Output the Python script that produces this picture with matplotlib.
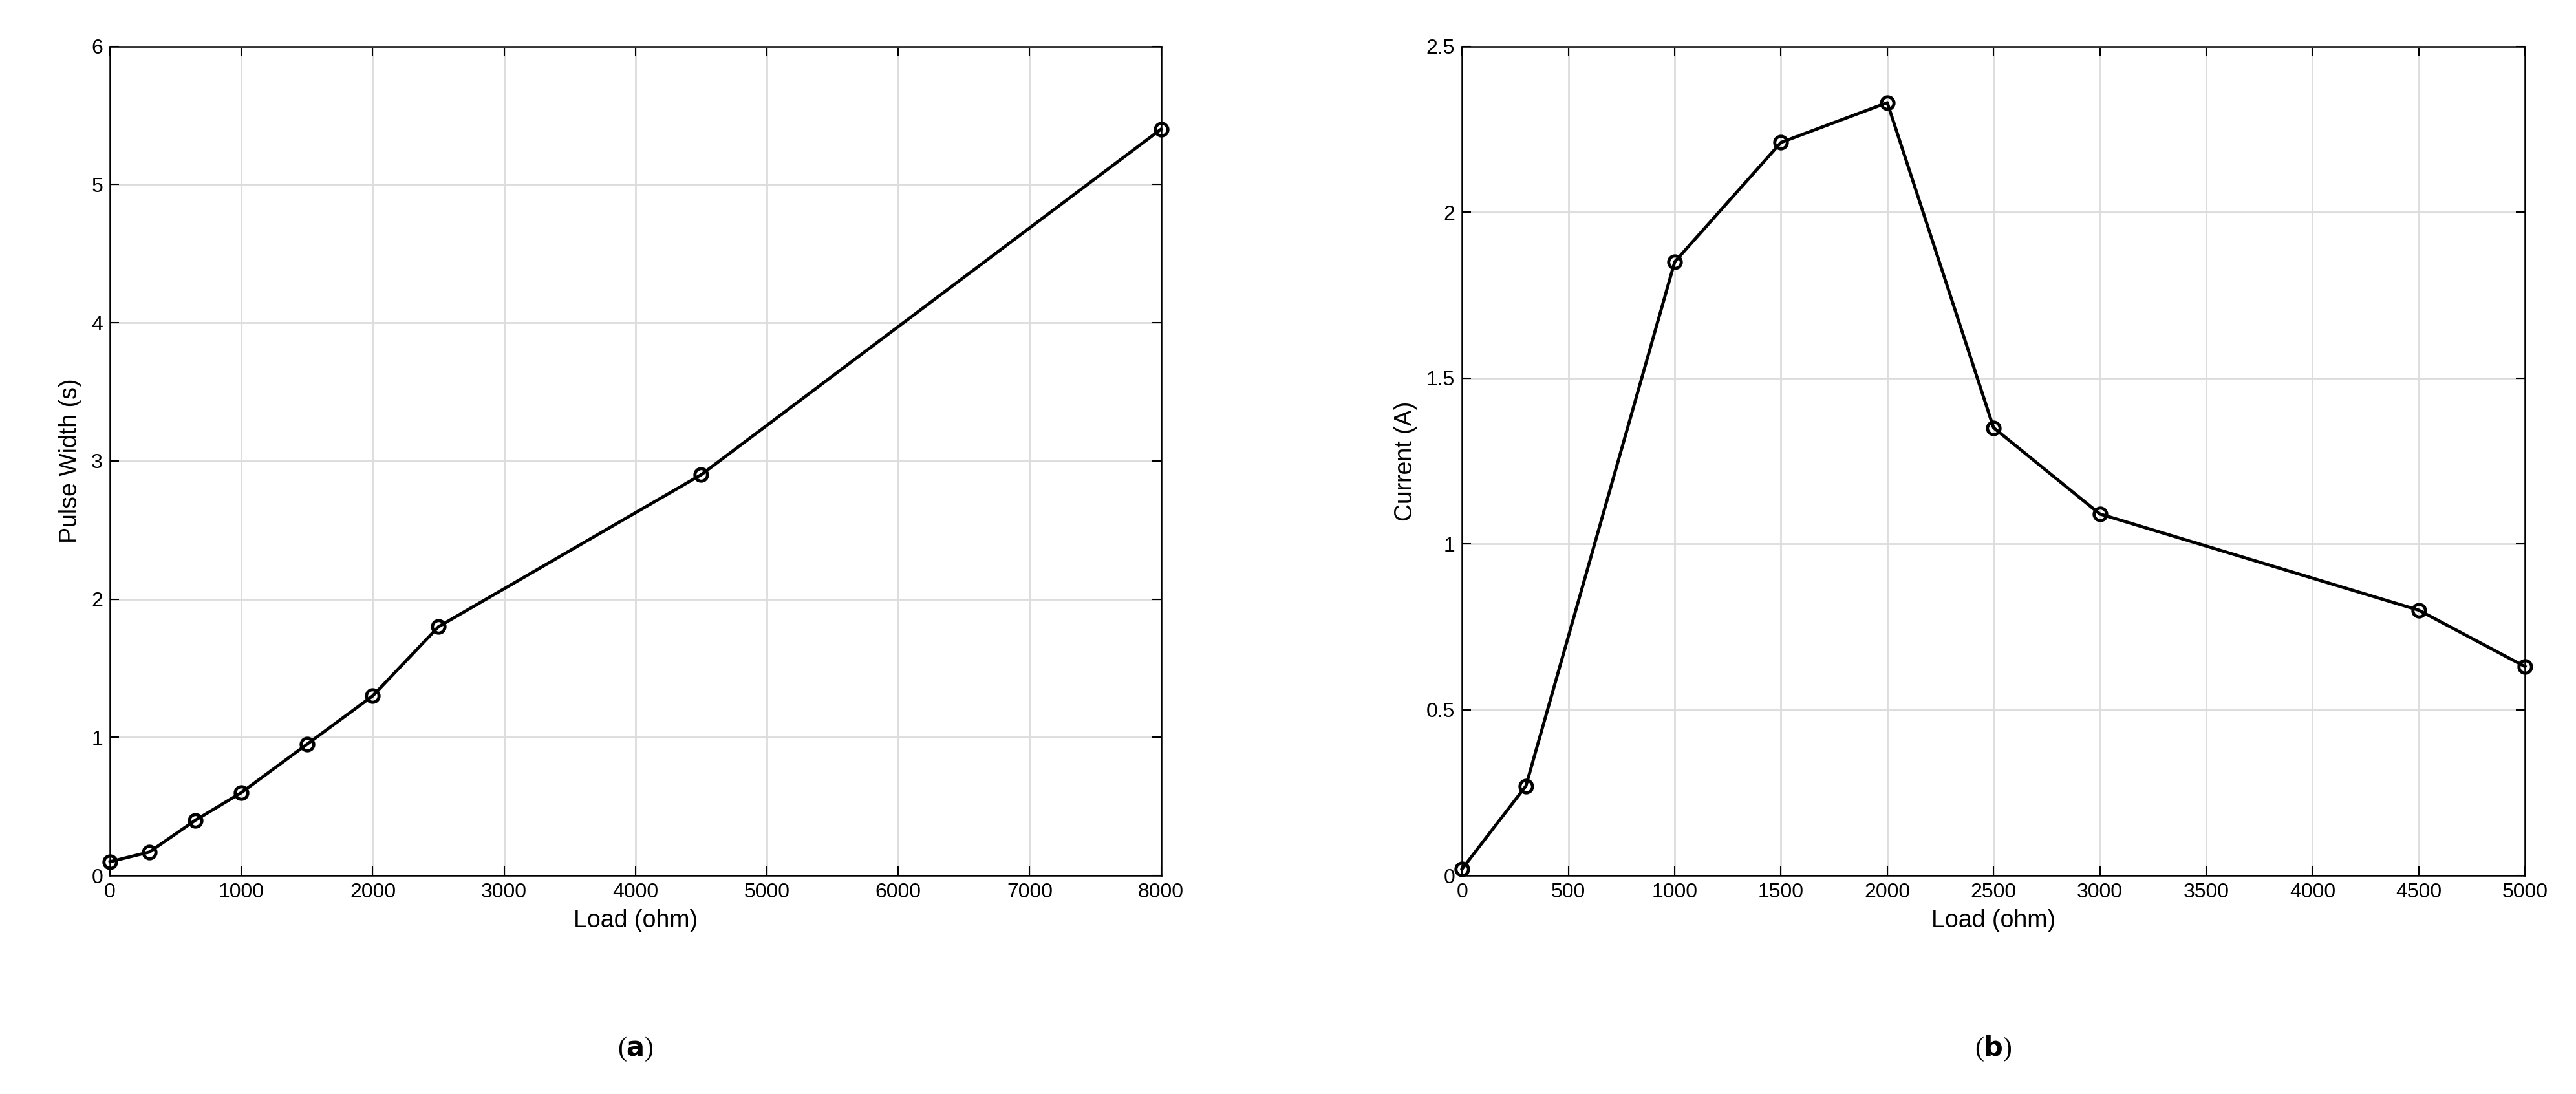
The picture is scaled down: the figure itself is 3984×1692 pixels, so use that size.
import matplotlib
matplotlib.use("Agg")
import matplotlib.pyplot as plt

load_a = [0, 300, 650, 1000, 1500, 2000, 2500, 4500, 8000]
pulse_a = [0.1, 0.17, 0.4, 0.6, 0.95, 1.3, 1.8, 2.9, 5.4]
load_b = [0, 300, 1000, 1500, 2000, 2500, 3000, 4500, 5000]
current_b = [0.02, 0.27, 1.85, 2.21, 2.33, 1.35, 1.09, 0.8, 0.63]

plt.rcParams['font.family'] = ['Liberation Sans', 'DejaVu Sans']
fig = plt.figure(figsize=(39.84, 16.92), dpi=100)

def style(ax, xticks, yticks, ylabel, xlim, ylim):
    ax.set_xlim(*xlim); ax.set_ylim(*ylim)
    ax.set_xticks(xticks); ax.set_yticks(yticks)
    ax.grid(True, color='#dcdcdc', linewidth=2)
    ax.set_axisbelow(True)
    ax.tick_params(direction='in', top=True, right=True, labelsize=23, length=10, width=1.5, pad=8)
    for s in ax.spines.values():
        s.set_linewidth(1.8)
    ax.set_xlabel('Load (ohm)', fontsize=27, labelpad=8)
    ax.set_ylabel(ylabel, fontsize=27, labelpad=10)

ax1 = fig.add_axes([0.0427, 0.1997, 0.408, 0.758])
ax1.plot(load_a, pulse_a, '-o', color='black', lw=3.5, ms=14, mfc='none', mew=3.5, clip_on=False)
style(ax1, range(0, 8001, 1000), range(0, 7), 'Pulse Width (s)', (0, 8000), (0, 6))

ax2 = fig.add_axes([0.5676, 0.1997, 0.4126, 0.758])
ax2.plot(load_b, current_b, '-o', color='black', lw=3.5, ms=14, mfc='none', mew=3.5, clip_on=False)
style(ax2, range(0, 5001, 500), [0, 0.5, 1, 1.5, 2, 2.5], 'Current (A)', (0, 5000), (0, 2.5))
ax2.set_yticklabels(['0', '0.5', '1', '1.5', '2', '2.5'])

fig.text(0.2467, 0.035, '(a)', ha='center', fontsize=30, family='Liberation Serif')
fig.text(0.2467, 0.035, 'a', ha='center', fontsize=30, family='Liberation Serif', fontweight='bold', color='none')
for x, l in [(0.2467, 'a'), (0.7739, 'b')]:
    fig.text(x, 0.035, '(' + r'$\mathbf{' + l + '}$' + ')', ha='center', fontsize=30, family='Liberation Serif')
fig.texts = fig.texts[2:]
fig.savefig('out.png', dpi=100)
